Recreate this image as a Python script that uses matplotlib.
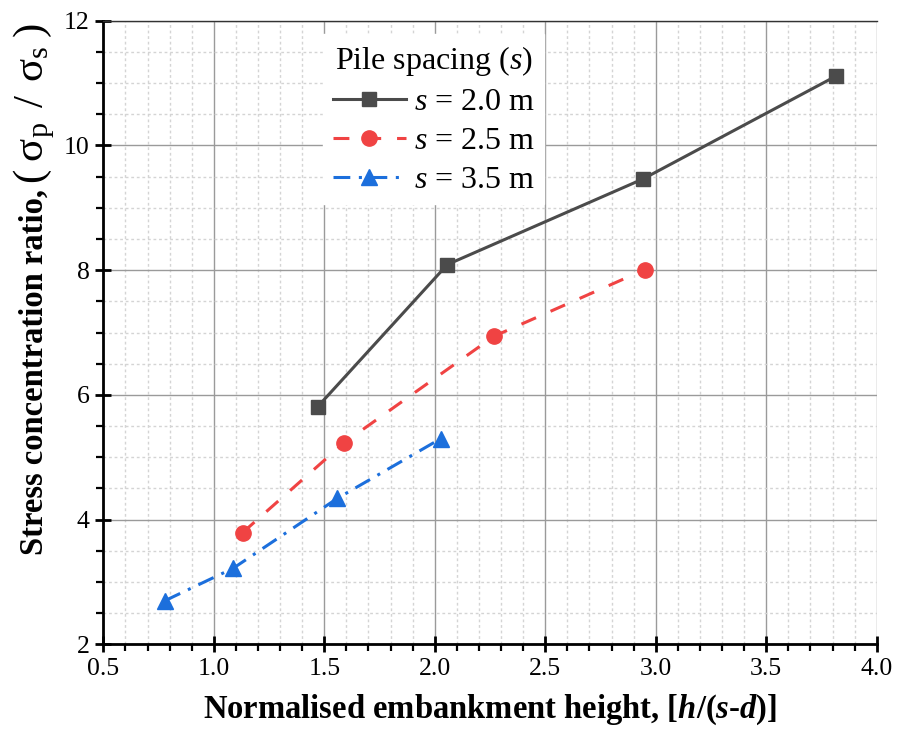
import matplotlib
matplotlib.use("Agg")
import matplotlib.pyplot as plt
from matplotlib.ticker import MultipleLocator, FormatStrFormatter

plt.rcParams["font.family"] = ["Liberation Serif", "DejaVu Serif"]
plt.rcParams["mathtext.fontset"] = "custom"
plt.rcParams["mathtext.rm"] = "Liberation Serif"
plt.rcParams["mathtext.it"] = "Liberation Serif:italic"
plt.rcParams["mathtext.bf"] = "Liberation Serif:bold"
plt.rcParams["mathtext.bfit"] = "Liberation Serif:bold:italic"

# Normalised embankment height h/(s-d) and stress concentration ratio per pile spacing
x_s20 = [1.47, 2.057, 2.941, 3.815]
y_s20 = [5.81, 8.09, 9.46, 11.11]
x_s25 = [1.13, 1.589, 2.268, 2.952]
y_s25 = [3.79, 5.23, 6.94, 8.01]
x_s35 = [0.779, 1.088, 1.559, 2.028]
y_s35 = [2.70, 3.22, 4.34, 5.30]

labels = [r"$\mathit{s}$ = 2.0 m", r"$\mathit{s}$ = 2.5 m", r"$\mathit{s}$ = 3.5 m"]
legend_title = r"Pile spacing ($\mathit{s}$)"

W, H = 8.97, 7.34
fig = plt.figure(figsize=(W, H), dpi=100)
ax = fig.add_axes([0.1152, 0.1222, 0.8622, 0.8496])

c_gray = "#4b4b4b"
c_red = "#f04343"
c_blue = "#1c6fdc"

ax.plot(x_s20, y_s20, color=c_gray, lw=2.2, ls="-", marker="s", ms=10, label=labels[0], zorder=5)
ax.plot(x_s25, y_s25, color=c_red, lw=2.2, ls=(0, (5.2, 5.2)), marker="o", ms=11, label=labels[1], zorder=5)
ax.plot(x_s35, y_s35, color=c_blue, lw=2.2, ls=(0, (5.5, 2.8, 1.0, 2.8)), marker="^", ms=12, label=labels[2], zorder=5)

ax.set_xlim(0.5, 4.0)
ax.set_ylim(2, 12)
ax.xaxis.set_major_locator(MultipleLocator(0.5))
ax.xaxis.set_minor_locator(MultipleLocator(0.1))
ax.yaxis.set_major_locator(MultipleLocator(2))
ax.yaxis.set_minor_locator(MultipleLocator(0.5))
ax.xaxis.set_major_formatter(FormatStrFormatter("%.1f"))
ax.yaxis.set_major_formatter(FormatStrFormatter("%d"))

ax.grid(which="major", color="#9a9a9a", lw=1.0, ls="-")
ax.grid(which="minor", color="#d4d4d4", lw=1.0, ls=(0, (2, 2)))
ax.set_axisbelow(True)

for side in ("left", "bottom"):
    ax.spines[side].set_linewidth(2.0)
    ax.spines[side].set_color("black")
ax.spines["top"].set_linewidth(1.0)
ax.spines["top"].set_color("#333333")
ax.spines["right"].set_visible(False)

ax.tick_params(which="major", direction="inout", length=12, width=2.0, labelsize=18.5, pad=4)
ax.tick_params(which="minor", direction="out", length=5, width=1.6)
ax.tick_params(top=False, right=False)

ax.set_xlabel(r"Normalised embankment height, [$\mathbfit{h}$/($\mathbfit{s}$-$\mathbfit{d}$)]",
              fontsize=23.5, fontweight="bold", labelpad=9)

# y-axis title: bold words followed by the ratio symbol set larger
x_base = 43 / (W * 100)
y_start = 1 - 555 / (H * 100)
t1 = fig.text(x_base, y_start, "Stress concentration ratio,", rotation=90,
              rotation_mode="anchor", ha="left", va="baseline",
              fontsize=23.5, fontweight="bold")
fig.canvas.draw()
bb = t1.get_window_extent(fig.canvas.get_renderer())
fig.text(x_base, (bb.y1 + 5) / (H * 100),
         r"$(\;\mathrm{\sigma}_{\mathrm{p}}\;\,/\,\;\mathrm{\sigma}_{\mathrm{s}}\;)$",
         rotation=90, rotation_mode="anchor", ha="left", va="baseline", fontsize=31)

leg = ax.legend(loc="upper left", bbox_to_anchor=(0.284, 0.978), fontsize=23,
                title=legend_title, title_fontsize=23, frameon=True, fancybox=False,
                framealpha=1, facecolor="white", edgecolor="white",
                handlelength=2.3, handletextpad=0.25, labelspacing=0.3, borderpad=0.3,
                borderaxespad=0.0)
leg.get_title().set_ha("left")
leg.set_zorder(10)

fig.savefig("out.png", dpi=100)
